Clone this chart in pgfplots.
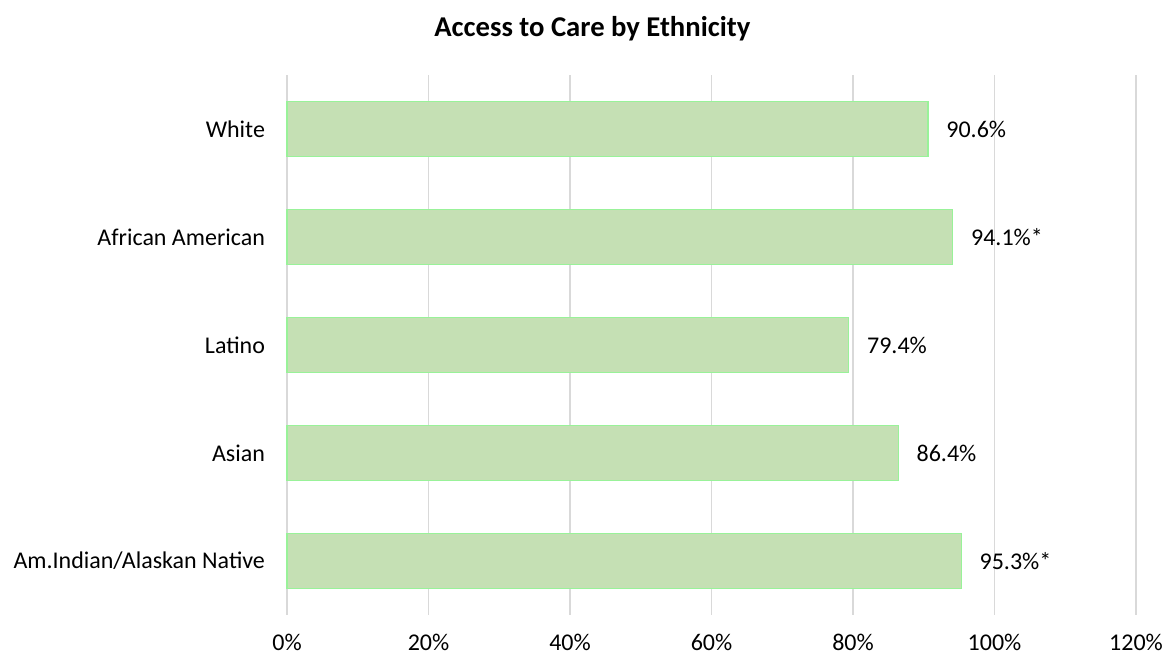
\documentclass[border=0pt]{standalone}
\usepackage{pgfplots}
\pgfplotsset{compat=1.18}
\usepackage{fontspec}
\setmainfont{Carlito}
\definecolor{barfill}{HTML}{C5E0B4}
\definecolor{baredge}{HTML}{99F299}
\definecolor{gridc}{HTML}{D9D9D9}
\begin{document}
\begin{tikzpicture}[x=1pt,y=1pt]
\path[use as bounding box] (-215.25,-30.75) rectangle ++(874.5,492);
\node[font=\fontsize{21.5}{24}\selectfont\bfseries] at (229,440) {Access to Care by Ethnicity};
\begin{axis}[
  at={(0,0)}, anchor=south west,
  scale only axis,
  width=636.75pt, height=405pt,
  xmin=0, xmax=120,
  ymin=-0.5, ymax=4.5,
  xtick={0,20,...,120},
  xticklabel={\pgfmathprintnumber{\tick}\%},
  ytick={0,1,2,3,4},
  yticklabels={Am.Indian/Alaskan Native,Asian,Latino,African American,White},
  axis line style={draw=none},
  major tick length=0pt,
  xmajorgrids,
  major grid style={gridc, line width=1.1pt},
  tick label style={font=\fontsize{18}{21}\selectfont},
  /pgf/number format/assume math mode=true,
  xticklabel style={yshift=-11pt},
  yticklabel style={xshift=-13pt},
  xbar,
  bar width=0.51,
  point meta=explicit symbolic,
  nodes near coords={\pgfplotspointmeta},
  nodes near coords style={font=\fontsize{18}{21}\selectfont, anchor=west, xshift=10pt},
  clip=false,
]
\addplot[fill=barfill, draw=baredge, line width=0.9pt] table[x=v, y=c, meta=lab] {
c v lab
4 90.6 90.6\%
3 94.1 94.1\%*
2 79.4 79.4\%
1 86.4 86.4\%
0 95.3 95.3\%*
};
\end{axis}
\end{tikzpicture}
\end{document}
